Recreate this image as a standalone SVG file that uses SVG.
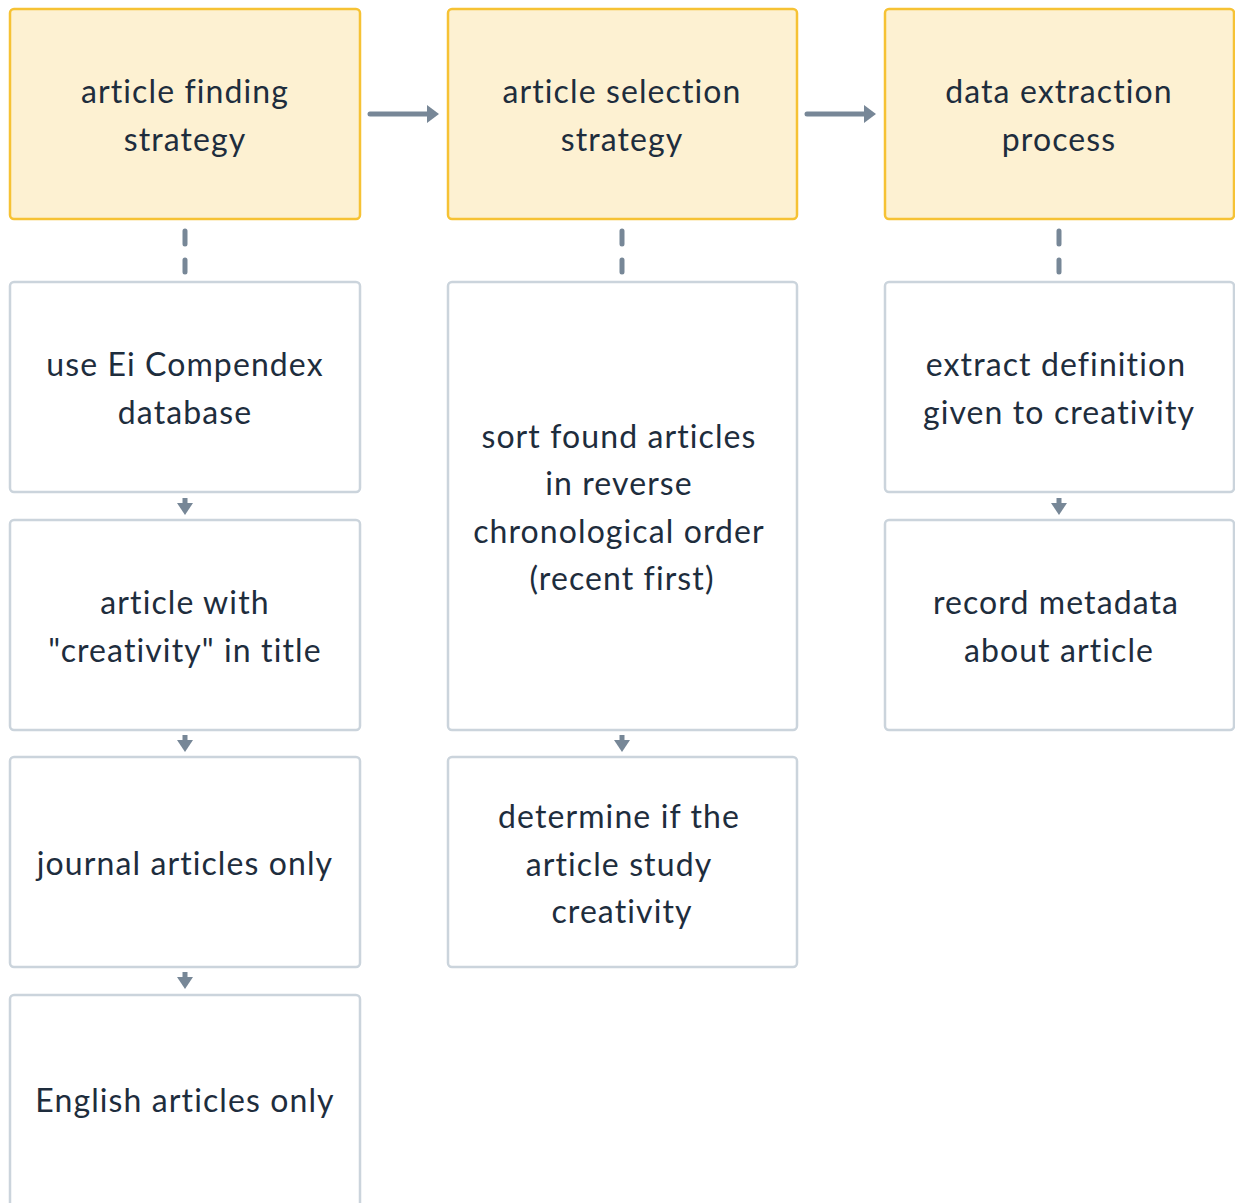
<svg xmlns="http://www.w3.org/2000/svg" width="1235" height="1203" viewBox="0 0 1235 1203">
<defs>
<style>
.hd rect{fill:#fdf1d2;stroke:#f6c234;stroke-width:2.5}
.nd rect{fill:#ffffff;stroke:#cbd4dc;stroke-width:2.5}
text{font-family:"Lato","Noto Sans",sans-serif;font-size:32px;fill:#1e2d3d;text-anchor:middle;letter-spacing:1.1px}
.c line{stroke:#778797;stroke-width:5;stroke-linecap:round;fill:none}
.c .d{stroke-dasharray:13 16}
.c path{fill:#778797}
</style>
</defs>
<g id="connectors" class="c">
<line x1="370" y1="114" x2="430" y2="114"/>
<path d="M427,105 L439,114 L427,123 z"/>
<line x1="807" y1="114" x2="867" y2="114"/>
<path d="M864,105 L876,114 L864,123 z"/>
<line class="d" x1="185" y1="231" x2="185" y2="272"/>
<line class="d" x1="622" y1="231" x2="622" y2="272"/>
<line class="d" x1="1059" y1="231" x2="1059" y2="272"/>
<line x1="185" y1="498" x2="185" y2="505" style="stroke-linecap:butt"/>
<path d="M177,503 L193,503 L185,515 z"/>
<line x1="185" y1="735" x2="185" y2="742" style="stroke-linecap:butt"/>
<path d="M177,740 L193,740 L185,752 z"/>
<line x1="185" y1="972" x2="185" y2="979" style="stroke-linecap:butt"/>
<path d="M177,977 L193,977 L185,989 z"/>
<line x1="622" y1="735" x2="622" y2="742" style="stroke-linecap:butt"/>
<path d="M614,740 L630,740 L622,752 z"/>
<line x1="1059" y1="498" x2="1059" y2="505" style="stroke-linecap:butt"/>
<path d="M1051,503 L1067,503 L1059,515 z"/>
</g>
<g id="n1" class="hd">
<rect x="10" y="9" width="350" height="210" rx="4"/>
<text x="185" y="103">article finding</text>
<text x="185" y="151">strategy</text>
</g>
<g id="n2" class="hd">
<rect x="448" y="9" width="349" height="210" rx="4"/>
<text x="622" y="103">article selection</text>
<text x="622" y="151">strategy</text>
</g>
<g id="n3" class="hd">
<rect x="885" y="9" width="349" height="210" rx="4"/>
<text x="1059" y="103">data extraction</text>
<text x="1059" y="151">process</text>
</g>
<g id="n4" class="nd">
<rect x="10" y="282" width="350" height="210" rx="4"/>
<text x="185" y="376">use Ei Compendex</text>
<text x="185" y="424">database</text>
</g>
<g id="n5" class="nd">
<rect x="10" y="520" width="350" height="210" rx="4"/>
<text x="185" y="614">article with</text>
<text x="185" y="662">"creativity" in title</text>
</g>
<g id="n6" class="nd">
<rect x="10" y="757" width="350" height="210" rx="4"/>
<text x="185" y="875">journal articles only</text>
</g>
<g id="n7" class="nd">
<rect x="10" y="995" width="350" height="220" rx="4"/>
<text x="185" y="1112">English articles only</text>
</g>
<g id="n8" class="nd">
<rect x="448" y="282" width="349" height="448" rx="4"/>
<text x="619" y="448">sort found articles</text>
<text x="619" y="495">in reverse</text>
<text x="619" y="543">chronological order</text>
<text x="622" y="590">(recent first)</text>
</g>
<g id="n9" class="nd">
<rect x="448" y="757" width="349" height="210" rx="4"/>
<text x="619" y="828">determine if the</text>
<text x="619" y="876">article study</text>
<text x="622" y="923">creativity</text>
</g>
<g id="n10" class="nd">
<rect x="885" y="282" width="349" height="210" rx="4"/>
<text x="1056" y="376">extract definition</text>
<text x="1059" y="424">given to creativity</text>
</g>
<g id="n11" class="nd">
<rect x="885" y="520" width="349" height="210" rx="4"/>
<text x="1056" y="614">record metadata</text>
<text x="1059" y="662">about article</text>
</g>
</svg>
